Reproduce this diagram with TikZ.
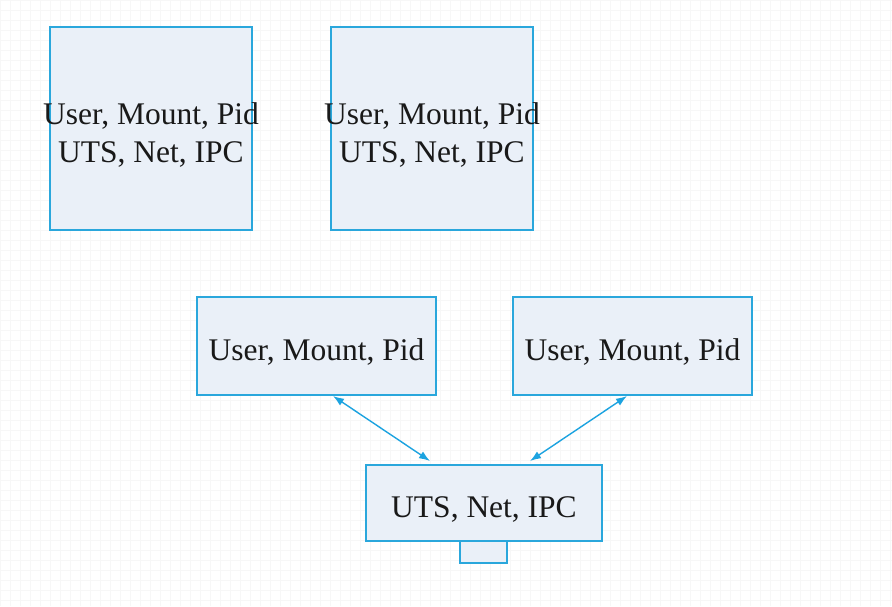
\documentclass[tikz,border=0pt]{standalone}
\usepackage{fontspec}
\setmainfont{Liberation Serif}
\usetikzlibrary{arrows.meta,calc}
\definecolor{boxfill}{HTML}{EAF0F8}
\definecolor{boxline}{HTML}{2AA7DC}
\definecolor{arrowc}{HTML}{1CA3E0}
\tikzset{
  nsbox/.style={draw=boxline, fill=boxfill, line width=1.4pt, inner sep=0pt, outer sep=0pt},
  nstext/.style={font=\fontsize{31.5}{38}\selectfont, align=center, text=black!90, inner sep=0pt},
  link/.style={draw=arrowc, line width=1.4pt, {Latex[length=11pt,width=8pt]}-{Latex[length=11pt,width=8pt]}}
}
\begin{document}
\begin{tikzpicture}[x=1pt,y=-1pt]
\useasboundingbox (0,0) rectangle (892,606);
\fill[white] (0,0) rectangle (892,606);
\draw[black!3, line width=0.4pt, step=10pt] (0,0) grid (892,606);
% top boxes
\node[nsbox, minimum width=202pt, minimum height=203pt] (b1) at (151,128.5) {};
\node[nsbox, minimum width=202pt, minimum height=203pt] (b2) at (432,128.5) {};
\node[nstext] (t1) at (151,135) {User, Mount, Pid\\UTS, Net, IPC};
\node[nstext] (t2) at (432,135) {User, Mount, Pid\\UTS, Net, IPC};
% middle boxes
\node[nsbox, minimum width=239pt, minimum height=98pt] (b3) at (316.5,346) {};
\node[nsbox, minimum width=239pt, minimum height=98pt] (b4) at (632.5,346) {};
\node[nstext] (t3) at (316.5,352) {User, Mount, Pid};
\node[nstext] (t4) at (632.5,352) {User, Mount, Pid};
% bottom box
\node[nsbox, minimum width=47pt, minimum height=24pt] (b6) at (483.5,551) {};
\node[nsbox, minimum width=236pt, minimum height=76pt] (b5) at (484,503) {};
\node[nstext] (t5) at (484,509) {UTS, Net, IPC};
% connectors
\coordinate (a1) at ($(b3.south)+(16.5,1)$);
\coordinate (a2) at ($(b5.north)+(-54,-4)$);
\coordinate (a3) at ($(b4.south)+(-5.5,1)$);
\coordinate (a4) at ($(b5.north)+(46,-4)$);
\draw[link] (a1) -- (a2);
\draw[link] (a3) -- (a4);
\end{tikzpicture}
\end{document}
